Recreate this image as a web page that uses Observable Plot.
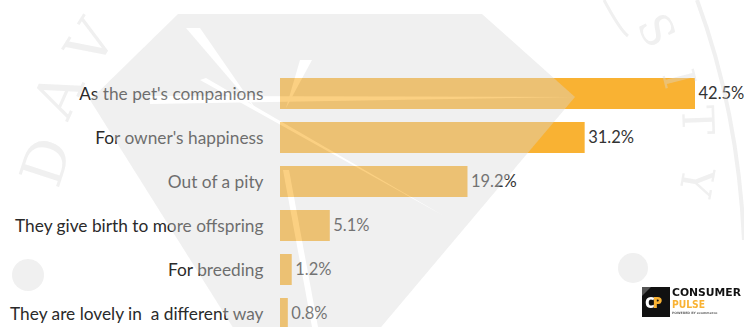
<!DOCTYPE html>
<html>
<head>
<meta charset="utf-8">
<script src="https://cdn.jsdelivr.net/npm/d3@7"></script>
<script src="https://cdn.jsdelivr.net/npm/@observablehq/plot@0.6"></script>
<style>
  html, body { margin: 0; padding: 0; background: #fff; overflow: hidden; width: 744px; height: 327px; }
  #wrap { position: relative; width: 744px; height: 327px; overflow: hidden; }
  #chart svg text { white-space: pre; }
  #overlay { position: absolute; left: 0; top: 0; pointer-events: none; }
  #logo { position: absolute; left: 642px; top: 286px; pointer-events: none; }
</style>
</head>
<body>
<div id="wrap">
  <div id="chart"></div>
  <svg id="overlay" width="744" height="327" viewBox="0 0 744 327">
    <g opacity="0.39">
      <g fill="#d8d8d8">
        <polygon points="178,14 482,14 575,97 296,428 90,100"/>
        <circle cx="28" cy="275" r="16"/>
        <circle cx="633" cy="268" r="15"/>
        <text x="0" y="0" font-family="DejaVu Serif, serif" font-size="58" transform="translate(58,190) rotate(-72)">D</text>
        <text x="0" y="0" font-family="DejaVu Serif, serif" font-size="58" transform="translate(68,122) rotate(-66)">A</text>
        <text x="0" y="0" font-family="DejaVu Serif, serif" font-size="56" transform="translate(96,70) rotate(-58)">V</text>
        <text x="0" y="0" font-family="DejaVu Serif, serif" font-size="44" transform="translate(636,24) rotate(62)">S</text>
        <text x="0" y="0" font-family="DejaVu Serif, serif" font-size="44" transform="translate(662,74) rotate(76)">I</text>
        <text x="0" y="0" font-family="DejaVu Serif, serif" font-size="44" transform="translate(682,106) rotate(88)">T</text>
        <text x="0" y="0" font-family="DejaVu Serif, serif" font-size="44" transform="translate(684,165) rotate(100)">Y</text>
      </g>
      <g fill="none" stroke="#d8d8d8">
        <path d="M 697,0 Q 738,110 744,240" stroke-width="4"/>
        <path d="M 604,0 Q 620,30 628,36" stroke-width="3"/>
      </g>
      <g fill="#ffffff">
        <polygon points="186,28 200,28 258,112"/>
        <polygon points="150,96 575,97 150,104"/>
        <polygon points="200,80 206,78 444,216"/>
        <polygon points="283,170 289,170 318,327 312,327"/>
        <polygon points="300,60 312,60 286,108"/>
      </g>
    </g>
  </svg>
  <svg id="logo" width="102" height="34" viewBox="0 0 102 34">
    <rect x="0" y="1" width="28" height="30" fill="#111"/>
    <polygon points="0,1 9,1 0,10" fill="#555"/>
    <text x="3" y="22" font-family="Open Sans, sans-serif" font-weight="800" font-size="15" letter-spacing="-2" fill="#fff">C<tspan fill="#F9B233">P</tspan></text>
    <text x="30" y="9.5" font-family="DejaVu Sans, sans-serif" font-weight="bold" font-size="10.2" textLength="69" lengthAdjust="spacingAndGlyphs" fill="#111">CONSUMER</text>
    <text x="30" y="21.5" font-family="DejaVu Sans, sans-serif" font-weight="bold" font-size="10.2" textLength="33" lengthAdjust="spacingAndGlyphs" fill="#F9B233">PULSE</text>
    <text x="30" y="28" font-family="DejaVu Sans, sans-serif" font-weight="bold" font-size="3.2" fill="#666">POWERED BY ecommerce</text>
  </svg>
</div>
<script>
const categories = [
  "As the pet's companions",
  "For owner's happiness",
  "Out of a pity",
  "They give birth to more offspring",
  "For breeding",
  "They are lovely in  a different way"
];
const values = [42.5, 31.2, 19.2, 5.1, 1.2, 0.8];
const valueLabels = ["42.5%", "31.2%", "19.2%", "5.1%", "1.2%", "0.8%"];

const data = categories.map((c, i) => ({category: c, value: values[i], label: valueLabels[i]}));

const chart = Plot.plot({
  width: 744,
  height: 345,
  marginLeft: 280,
  marginRight: 49,
  marginTop: 62.5,
  marginBottom: 0,
  style: {background: "transparent", fontFamily: "Lato, sans-serif"},
  x: {domain: [0, 42.5], axis: null},
  y: {domain: categories, padding: 0.3, axis: null},
  marks: [
    Plot.barX(data, {x: "value", y: "category", fill: "#F9B233"}),
    Plot.text(data, {x: "value", y: "category", text: "label", textAnchor: "start", dx: 3, fontSize: 16.5, fill: "#333"}),
    Plot.text(data, {x: 0, y: "category", text: "category", textAnchor: "end", dx: -17, fontSize: 17.3, fill: "#2a2a2a"})
  ]
});
document.getElementById("chart").appendChild(chart);
</script>
</body>
</html>
